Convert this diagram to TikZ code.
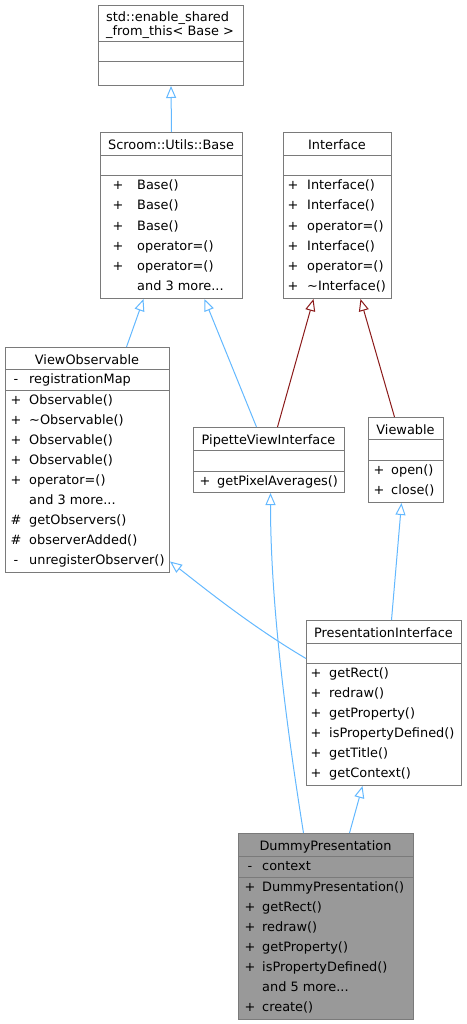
\documentclass[tikz,border=0pt]{standalone}
\usepackage{fontspec}
\setmainfont{DejaVu Sans}
\usetikzlibrary{arrows.meta}
\definecolor{boxgray}{HTML}{7A7A7A}
\definecolor{dummyfill}{HTML}{999999}
\definecolor{inhblue}{HTML}{63B8FF}
\definecolor{inhred}{HTML}{8B1A1A}
\tikzset{
  umlbox/.style={draw=boxgray, line width=1pt, fill=white, inner sep=0pt, anchor=north west},
  sepline/.style={draw=boxgray, line width=1pt},
  txt/.style={inner sep=0pt, font=\fontsize{12.9}{14}\selectfont},
  inh/.style={draw=inhblue, line width=1pt, -{Triangle[open,length=12pt,width=10pt,line width=1pt]}},
  inhr/.style={inh, draw=inhred},
}
\newcommand\mrow[6]{%
  \node[txt,anchor=base] (#1s) at (#2,#4) {#5};
  \node[txt,anchor=base west] (#1) at (#3,#4) {#6};}
\begin{document}
\begin{tikzpicture}[x=1pt,y=-1pt]
\useasboundingbox (0,0) rectangle (466,1024);
% boxes
\node[umlbox, minimum width=145pt, minimum height=80pt] (enable) at (98,5) {};
\node[umlbox, minimum width=142pt, minimum height=166pt] (base) at (100,132) {};
\node[umlbox, minimum width=108pt, minimum height=166pt] (iface) at (283,132) {};
\node[umlbox, minimum width=164pt, minimum height=225pt] (viewobs) at (5,347) {};
\node[umlbox, minimum width=151pt, minimum height=65pt] (pipette) at (193,427) {};
\node[umlbox, minimum width=75pt, minimum height=85pt] (viewable) at (368,417) {};
\node[umlbox, minimum width=155pt, minimum height=165pt] (pres) at (306,620) {};
\node[umlbox, fill=dummyfill, minimum width=175pt, minimum height=186pt] (dummy) at (238,833) {};
% separators
\draw[sepline] (enable.west |- 0,42) -- (enable.east |- 0,42);
\draw[sepline] (enable.west |- 0,62) -- (enable.east |- 0,62);
\draw[sepline] (base.west |- 0,156) -- (base.east |- 0,156);
\draw[sepline] (base.west |- 0,176) -- (base.east |- 0,176);
\draw[sepline] (iface.west |- 0,156) -- (iface.east |- 0,156);
\draw[sepline] (iface.west |- 0,176) -- (iface.east |- 0,176);
\draw[sepline] (viewobs.west |- 0,369) -- (viewobs.east |- 0,369);
\draw[sepline] (viewobs.west |- 0,390) -- (viewobs.east |- 0,390);
\draw[sepline] (pipette.west |- 0,450) -- (pipette.east |- 0,450);
\draw[sepline] (pipette.west |- 0,471) -- (pipette.east |- 0,471);
\draw[sepline] (viewable.west |- 0,439) -- (viewable.east |- 0,439);
\draw[sepline] (viewable.west |- 0,460) -- (viewable.east |- 0,460);
\draw[sepline] (pres.west |- 0,643) -- (pres.east |- 0,643);
\draw[sepline] (pres.west |- 0,663) -- (pres.east |- 0,663);
\draw[sepline] (dummy.west |- 0,856) -- (dummy.east |- 0,856);
\draw[sepline] (dummy.west |- 0,877) -- (dummy.east |- 0,877);
% titles
\node[txt,anchor=base west] (t1a) at (106,21.5) {std::enable\_shared};
\node[txt,anchor=base west] (t1b) at (106,35.5) {\_from\_this< Base >};
\node[txt,anchor=base] (t2) at (171,149.5) {Scroom::Utils::Base};
\node[txt,anchor=base] (t3) at (337,149.5) {Interface};
\node[txt,anchor=base] (t4) at (87,364) {ViewObservable};
\node[txt,anchor=base] (t5) at (268.5,444) {PipetteViewInterface};
\node[txt,anchor=base] (t6) at (405.5,434) {Viewable};
\node[txt,anchor=base] (t7) at (383.5,637) {PresentationInterface};
\node[txt,anchor=base] (t8) at (325.5,850) {DummyPresentation};
% Base members
\mrow{b1}{118}{137}{190}{+}{Base()}
\mrow{b2}{118}{137}{210}{+}{Base()}
\mrow{b3}{118}{137}{230}{+}{Base()}
\mrow{b4}{118}{137}{250}{+}{operator=()}
\mrow{b5}{118}{137}{270}{+}{operator=()}
\node[txt,anchor=base west] (b6) at (137,290) {and 3 more...};
% Interface members
\mrow{i1}{293}{307}{190}{+}{Interface()}
\mrow{i2}{293}{307}{210}{+}{Interface()}
\mrow{i3}{293}{307}{230}{+}{operator=()}
\mrow{i4}{293}{307}{250}{+}{Interface()}
\mrow{i5}{293}{307}{270}{+}{operator=()}
\mrow{i6}{293}{307}{290}{+}{\textasciitilde Interface()}
% ViewObservable
\mrow{v0}{16}{29}{383}{-}{registrationMap}
\mrow{v1}{16}{29}{404}{+}{Observable()}
\mrow{v2}{16}{29}{424}{+}{\textasciitilde Observable()}
\mrow{v3}{16}{29}{444}{+}{Observable()}
\mrow{v4}{16}{29}{464}{+}{Observable()}
\mrow{v5}{16}{29}{484}{+}{operator=()}
\node[txt,anchor=base west] (v6) at (29,504) {and 3 more...};
\mrow{v7}{16}{29}{524}{\#}{getObservers()}
\mrow{v8}{16}{29}{544}{\#}{observerAdded()}
\mrow{v9}{16}{29}{564}{-}{unregisterObserver()}
% Pipette
\mrow{p1}{205}{217}{485}{+}{getPixelAverages()}
% Viewable
\mrow{w1}{379}{391}{474}{+}{open()}
\mrow{w2}{379}{391}{494}{+}{close()}
% PresentationInterface
\mrow{r1}{316}{329}{677}{+}{getRect()}
\mrow{r2}{316}{329}{697}{+}{redraw()}
\mrow{r3}{316}{329}{717}{+}{getProperty()}
\mrow{r4}{316}{329}{737}{+}{isPropertyDefined()}
\mrow{r5}{316}{329}{757}{+}{getTitle()}
\mrow{r6}{316}{329}{777}{+}{getContext()}
% Dummy
\mrow{d0}{250}{262}{870}{-}{context}
\mrow{d1}{250}{262}{891}{+}{DummyPresentation()}
\mrow{d2}{250}{262}{911}{+}{getRect()}
\mrow{d3}{250}{262}{931}{+}{redraw()}
\mrow{d4}{250}{262}{951}{+}{getProperty()}
\mrow{d5}{250}{262}{971}{+}{isPropertyDefined()}
\node[txt,anchor=base west] (d6) at (262,991) {and 5 more...};
\mrow{d7}{250}{262}{1011}{+}{create()}
% inheritance connectors
\draw[inh] (base.north) -- (enable.south);
\draw[inh] ([xshift=39pt]viewobs.north) -- ([xshift=-28pt]base.south);
\draw[inh] ([xshift=-12.5pt]pipette.north) -- ([xshift=33pt]base.south);
\draw[inhr] ([xshift=8.5pt]pipette.north) -- ([xshift=-24pt]iface.south);
\draw[inhr] ([xshift=-11.5pt]viewable.north) -- ([xshift=23pt]iface.south);
\draw[inh] ([yshift=44.5pt]pres.west) .. controls +(-56,-33) and +(31,24) .. ([yshift=-101.5pt]viewobs.east);
\draw[inh] ([xshift=7.5pt]pres.north) -- ([xshift=-4.5pt]viewable.south);
\draw[inh] ([xshift=-22.5pt]dummy.north) .. controls +(-18,-113) and +(0,108) .. ([xshift=1.5pt]pipette.south);
\draw[inh] ([xshift=23.5pt]dummy.north) -- ([xshift=-21.5pt]pres.south);
\end{tikzpicture}
\end{document}
